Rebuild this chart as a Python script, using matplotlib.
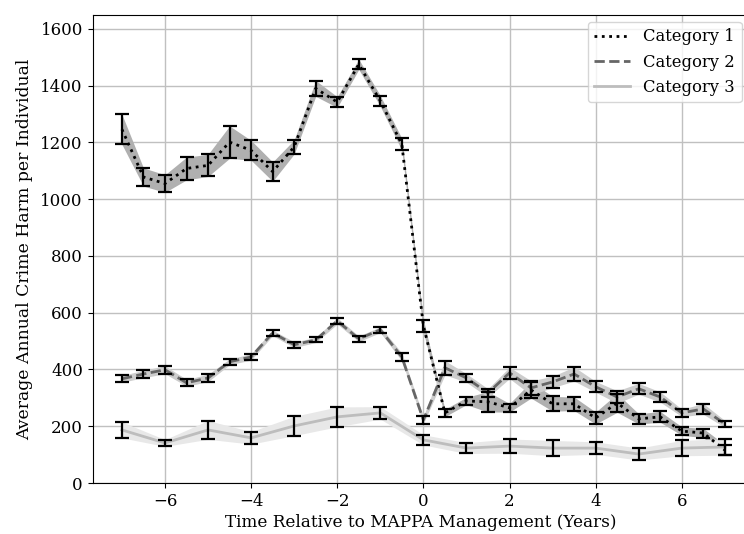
import numpy as np
import matplotlib
matplotlib.use("Agg")
from matplotlib import pyplot as plt

# Datos
years_half = np.arange(-7, 7.5, 0.5)
years_int = np.arange(-7, 8, 1)

cat1_mean = [1246, 1078, 1055, 1108, 1119, 1201, 1172, 1097, 1184, 1390, 1342, 1475, 1346, 1193,
             554, 247, 289, 286, 265, 328, 279, 279, 229, 282, 226, 233, 183, 176, 116]
cat1_err = [53, 32, 31, 40, 39, 57, 35, 34, 25, 28, 19, 18, 19, 21,
            22, 13, 13, 36, 15, 29, 26, 24, 21, 33, 18, 19, 15, 16, 19]

cat2_mean = [367, 384, 399, 353, 370, 427, 444, 529, 487, 504, 571, 508, 540, 444,
             222, 406, 370, 317, 388, 335, 356, 384, 339, 303, 332, 303, 247, 261, 208]
cat2_err = [12, 13, 14, 12, 13, 10, 11, 10, 10, 9, 11, 10, 10, 14,
            13, 25, 15, 15, 20, 25, 20, 25, 19, 22, 19, 18, 13, 19, 12]

cat3_mean = [187, 141, 187, 159, 201, 233, 247, 152, 123, 130, 123, 123, 102, 123, 127]
cat3_err = [28, 12, 33, 22, 34, 35, 22, 18, 19, 25, 27, 22, 21, 27, 29]

labels = ['Category 1', 'Category 2', 'Category 3']

plt.rcParams['font.family'] = ['DejaVu Serif']

fig = plt.figure(figsize=(7.44, 5.34), dpi=100)
ax = fig.add_axes([0.1245, 0.0955, 0.881, 0.876])

series = [
    (years_half, cat1_mean, cat1_err, 'black', ':', '#b0b0b0'),
    (years_half, cat2_mean, cat2_err, '#666666', '--', '#cdcdcd'),
    (years_int, cat3_mean, cat3_err, '#bdbdbd', '-', '#e8e8e8'),
]

for (x, m, e, col, ls, band), lab in zip(series, labels):
    m = np.array(m)
    e = np.array(e)
    # faixa sombreada
    ax.fill_between(x, m - e, m + e, color=band, linewidth=0, zorder=2)
    ax.plot(x, m, color=col, linestyle=ls, linewidth=2, label=lab, zorder=3)
    ax.errorbar(x, m, yerr=e, fmt='none', ecolor='black', elinewidth=1.6,
                capsize=5, capthick=1.6, zorder=4)

ax.set_xlim(-7.68, 7.54)
ax.set_ylim(0, 1648)
ax.set_xticks([-6, -4, -2, 0, 2, 4, 6])
ax.set_yticks(range(0, 1601, 200))
ax.tick_params(labelsize=12)
ax.grid(True, color='#c0c0c0', linewidth=1)
ax.set_axisbelow(True)
ax.set_xlabel('Time Relative to MAPPA Management (Years)', fontsize=12.2, labelpad=3)
ax.set_ylabel('Average Annual Crime Harm per Individual', fontsize=12.4, labelpad=5)
ax.legend(loc='upper right', fontsize=11.8, handlelength=2.2, borderaxespad=0.4)

fig.savefig('out.png', dpi=100)
